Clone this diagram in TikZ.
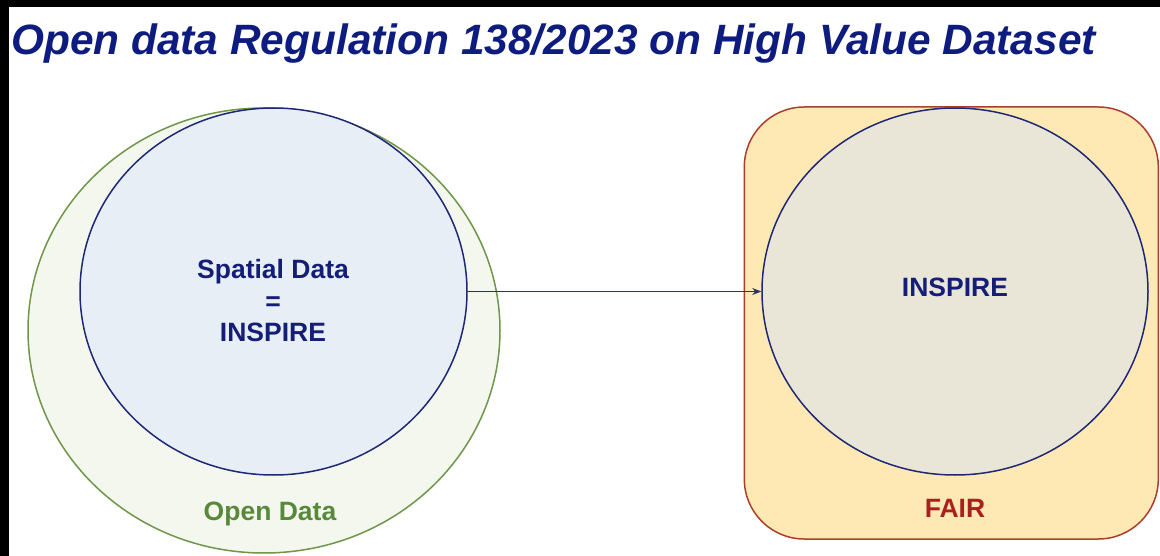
\documentclass[tikz,border=0pt]{standalone}
\usepackage{fontspec}
\setmainfont{Liberation Sans}
\usetikzlibrary{shapes.geometric,arrows.meta}
\definecolor{navy}{RGB}{14,28,128}
\definecolor{txtblue}{RGB}{20,30,118}
\definecolor{grnline}{RGB}{112,150,74}
\definecolor{grnfill}{RGB}{243,247,237}
\definecolor{grntxt}{RGB}{88,136,58}
\definecolor{bluefill}{RGB}{232,238,246}
\definecolor{blueline}{RGB}{30,40,118}
\definecolor{beigefill}{RGB}{233,230,216}
\definecolor{fairfill}{RGB}{254,233,180}
\definecolor{fairline}{RGB}{172,62,44}
\definecolor{fairtxt}{RGB}{170,32,30}
\definecolor{arrowcol}{RGB}{40,50,110}
\tikzset{
  oval/.style={ellipse, inner sep=0pt, line width=1.5pt},
  lbl/.style={font=\fontsize{26.5}{31.5}\selectfont\bfseries, align=center, inner sep=0pt},
}
\begin{document}
\begin{tikzpicture}[x=1pt,y=-1pt]
\useasboundingbox (0,0) rectangle (1160,556);
\fill[white] (0,0) rectangle (1160,556);
\fill[black] (0,0) rectangle (1160,7);
\fill[black] (0,0) rectangle (9,556);
% title
\node[anchor=base west, inner sep=0pt, text=navy,
      font=\fontsize{42.4}{50}\selectfont\bfseries\itshape] (title) at (11,55)
  {Open data Regulation 138/2023 on High Value Dataset};
% left group
\node[oval, draw=grnline, fill=grnfill, minimum width=472pt, minimum height=445pt] (open) at (264,330.5) {};
\node[oval, draw=blueline, fill=bluefill, minimum width=387pt, minimum height=367pt] (spatial) at (273.5,291.5) {};
\node[lbl, text=txtblue] (spatialtxt) at (273,301) {Spatial Data\\=\\INSPIRE};
\node[lbl, text=grntxt] (opentxt) at (270,514) {Open Data};
% right group
\node[draw=fairline, fill=fairfill, line width=1.5pt, rounded corners=60pt, minimum width=414pt, minimum height=432pt, inner sep=0pt] (fair) at (951.3,323) {};
\node[oval, draw=blueline, fill=beigefill, minimum width=386pt, minimum height=367pt] (inspire) at (955,291.5) {};
\node[lbl, text=txtblue] (inspiretxt) at (955,287) {INSPIRE};
\node[lbl, text=fairtxt] (fairtxt) at (955,508) {FAIR};
% connector
\draw[arrowcol, line width=0.8pt, -{Stealth[length=9pt,width=7pt]}] (spatial.east) -- (inspire.west);
\end{tikzpicture}
\end{document}
